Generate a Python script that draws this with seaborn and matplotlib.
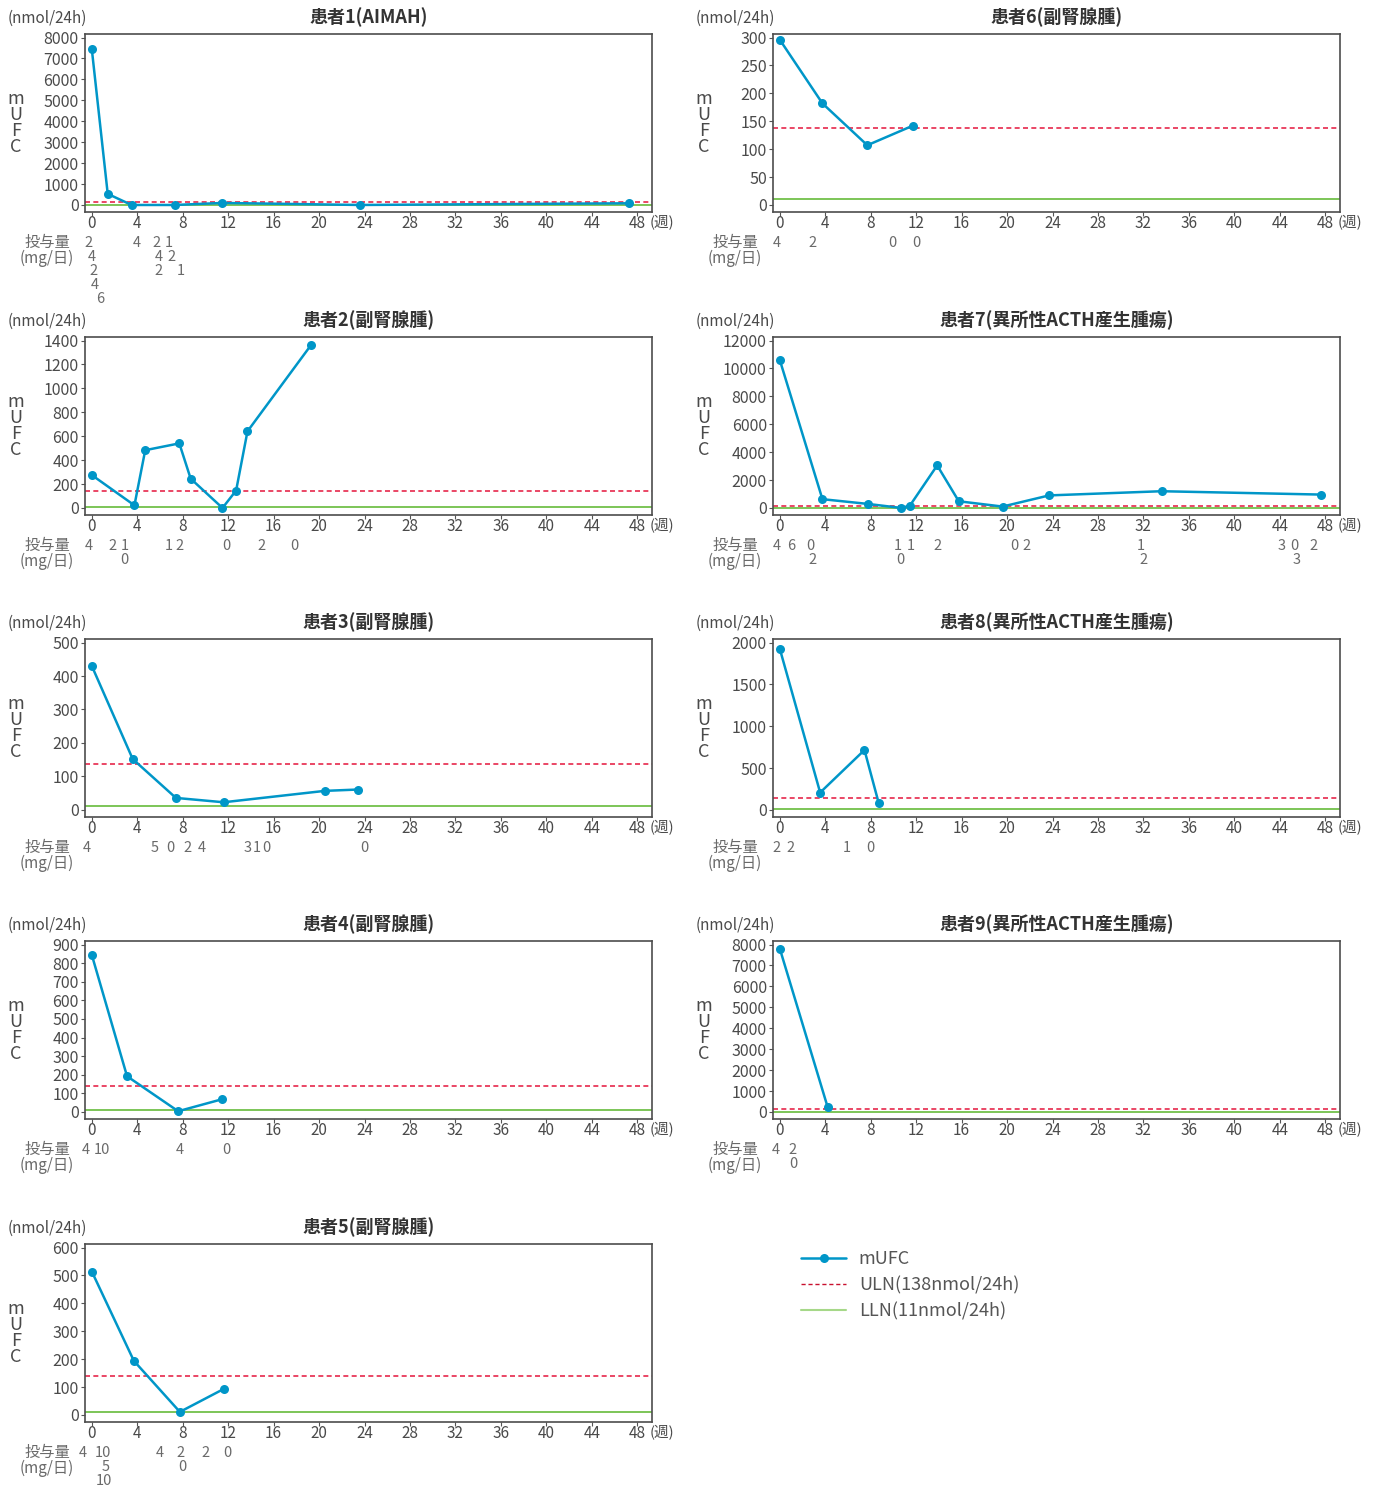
import matplotlib
matplotlib.use('Agg')
import seaborn as sns
import matplotlib.pyplot as plt
from matplotlib.lines import Line2D

# ---- data ----
ULN = 138
LLN = 11
week_ticks = list(range(0, 49, 4))

titles = ['患者1(AIMAH)', '患者2(副腎腺腫)', '患者3(副腎腺腫)', '患者4(副腎腺腫)', '患者5(副腎腺腫)',
          '患者6(副腎腺腫)', '患者7(異所性ACTH産生腫瘍)', '患者8(異所性ACTH産生腫瘍)', '患者9(異所性ACTH産生腫瘍)']

weeks_p1 = [0, 1.4, 3.5, 7.3, 11.5, 23.6, 47.3]
mufc_p1 = [7440, 530, 0, 0, 96, 0, 80]
weeks_p2 = [0, 3.75, 4.7, 7.7, 8.7, 11.5, 12.7, 13.7, 19.3]
mufc_p2 = [275, 22, 483, 540, 245, 0, 146, 641, 1363]
weeks_p3 = [0, 3.6, 7.4, 11.6, 20.5, 23.4]
mufc_p3 = [430, 152, 36, 23, 57, 61]
weeks_p4 = [0, 3.1, 7.6, 11.5]
mufc_p4 = [844, 192, 4, 69]
weeks_p5 = [0, 3.7, 7.75, 11.6]
mufc_p5 = [514, 194, 11, 93]
weeks_p6 = [0, 3.75, 7.7, 11.7]
mufc_p6 = [296, 182, 107, 142]
weeks_p7 = [0, 3.75, 7.75, 10.7, 11.45, 13.85, 15.75, 19.6, 23.7, 33.6, 47.6]
mufc_p7 = [10600, 630, 290, 0, 170, 3050, 480, 100, 900, 1200, 960]
weeks_p8 = [0, 3.55, 7.45, 8.7]
mufc_p8 = [1924, 208, 716, 84]
weeks_p9 = [0, 4.2]
mufc_p9 = [7800, 250]

yticks_p1 = list(range(0, 8001, 1000))
yticks_p2 = list(range(0, 1401, 200))
yticks_p3 = list(range(0, 501, 100))
yticks_p4 = list(range(0, 901, 100))
yticks_p5 = list(range(0, 601, 100))
yticks_p6 = list(range(0, 301, 50))
yticks_p7 = list(range(0, 12001, 2000))
yticks_p8 = list(range(0, 2001, 500))
yticks_p9 = list(range(0, 8001, 1000))

# dose changes: (week, row, label)
dose_p1 = [(-0.3, 0, '2'), (0.0, 1, '4'), (0.15, 2, '2'), (0.3, 3, '4'), (0.75, 4, '6'),
           (4.0, 0, '4'), (5.7, 0, '2'), (6.8, 0, '1'), (5.9, 1, '4'), (7.0, 1, '2'),
           (5.9, 2, '2'), (7.8, 2, '1')]
dose_p2 = [(-0.3, 0, '4'), (1.8, 0, '2'), (2.9, 0, '1'), (2.9, 1, '0'), (6.8, 0, '1'),
           (7.7, 0, '2'), (11.8, 0, '0'), (14.9, 0, '2'), (17.8, 0, '0')]
dose_p3 = [(-0.45, 0, '4'), (5.55, 0, '5'), (6.95, 0, '0'), (8.4, 0, '2'), (9.65, 0, '4'),
           (13.7, 0, '3'), (14.5, 0, '1'), (15.4, 0, '0'), (24.0, 0, '0')]
dose_p4 = [(-0.55, 0, '4'), (0.9, 0, '10'), (7.75, 0, '4'), (11.85, 0, '0')]
dose_p5 = [(-0.8, 0, '4'), (0.98, 0, '10'), (1.2, 1, '5'), (1.1, 2, '10'), (6.0, 0, '4'),
           (7.8, 0, '2'), (7.95, 1, '0'), (10.0, 0, '2'), (11.9, 0, '0')]
dose_p6 = [(-0.3, 0, '4'), (2.85, 0, '2'), (9.9, 0, '0'), (12.0, 0, '0')]
dose_p7 = [(-0.3, 0, '4'), (1.0, 0, '6'), (2.7, 0, '0'), (2.9, 1, '2'), (10.4, 0, '1'),
           (11.5, 0, '1'), (10.6, 1, '0'), (13.9, 0, '2'), (20.6, 0, '0'), (21.7, 0, '2'),
           (31.8, 0, '1'), (32.0, 1, '2'), (44.2, 0, '3'), (45.3, 0, '0'), (47.0, 0, '2'),
           (45.5, 1, '3')]
dose_p8 = [(-0.3, 0, '2'), (0.95, 0, '2'), (5.9, 0, '1'), (8.0, 0, '0')]
dose_p9 = [(-0.35, 0, '4'), (1.15, 0, '2'), (1.2, 1, '0')]

weeks_all = [weeks_p1, weeks_p2, weeks_p3, weeks_p4, weeks_p5, weeks_p6, weeks_p7, weeks_p8, weeks_p9]
mufc_all = [mufc_p1, mufc_p2, mufc_p3, mufc_p4, mufc_p5, mufc_p6, mufc_p7, mufc_p8, mufc_p9]
yticks_all = [yticks_p1, yticks_p2, yticks_p3, yticks_p4, yticks_p5, yticks_p6, yticks_p7, yticks_p8, yticks_p9]
dose_all = [dose_p1, dose_p2, dose_p3, dose_p4, dose_p5, dose_p6, dose_p7, dose_p8, dose_p9]

# ---- style ----
LINE = '#0096c8'
ULN_COLOR = '#e6284b'
LLN_COLOR = '#72c04a'
TEXT = '#4a4a4a'
GRAY = '#6a6a6a'

sns.set_theme(style='white')
plt.rcParams['font.family'] = ['Noto Sans CJK JP', 'DejaVu Sans']

W, H = 1376, 1488
fig = plt.figure(figsize=(W / 100, H / 100), dpi=100)

col_left = [85, 773]
row_top = [34, 337, 639, 941, 1244]
ax_w, ax_h = 567, 178


def px(x, y):
    return x / W, 1 - y / H


for i in range(9):
    col = 0 if i < 5 else 1
    row = i if i < 5 else i - 5
    left, top = col_left[col], row_top[row]
    bottom = top + ax_h
    ax = fig.add_axes([left / W, 1 - bottom / H, ax_w / W, ax_h / H])

    ax.axhline(ULN, color=ULN_COLOR, ls=(0, (3, 2)), lw=1.2, zorder=1)
    ax.axhline(LLN, color=LLN_COLOR, lw=1.3, zorder=1)
    sns.lineplot(x=weeks_all[i], y=mufc_all[i], ax=ax, color=LINE, marker='o',
                 markersize=6.5, markeredgewidth=0, linewidth=1.8, legend=False, zorder=3)

    yt = yticks_all[i]
    rng = yt[-1] - yt[0]
    ax.set_xlim(-0.6, 49.3)
    ax.set_ylim(-0.042 * rng, yt[-1] + 0.021 * rng)
    ax.set_xticks(week_ticks)
    ax.set_yticks(yt)
    ax.set_xlabel('')
    ax.set_ylabel('')
    ax.tick_params(axis='both', which='both', direction='out', length=3, width=0.8,
                   colors='#555555', labelcolor=TEXT, bottom=True, left=True)
    ax.tick_params(axis='x', pad=-1, labelsize=11)
    ax.tick_params(axis='y', pad=1.5, labelsize=11.5)
    for s in ax.spines.values():
        s.set_color('#4d4d4d')
        s.set_linewidth(1.2)

    # "(週)" after the last tick label
    ax.annotate('(週)', xy=(48, 0), xycoords=('data', 'axes fraction'),
                xytext=(12, -11), textcoords='offset pixels', ha='left', va='center',
                fontsize=10.5, color=TEXT)

    cx = left + ax_w / 2
    fig.text(*px(cx, top - 17), titles[i], ha='center', va='center',
             fontsize=13, fontweight='bold', color='#333333')
    fig.text(*px(left - 38, top - 16), '(nmol/24h)', ha='center', va='center',
             fontsize=11, color=TEXT)
    fig.text(*px(left - 69, top + ax_h / 2), 'm\nU\nF\nC', ha='center', va='center',
             fontsize=13, linespacing=0.85, color=TEXT)
    fig.text(*px(left - 38, bottom + 30), '投与量', ha='center', va='center',
             fontsize=11, color=GRAY)
    fig.text(*px(left - 38, bottom + 46), '(mg/日)', ha='center', va='center',
             fontsize=11, color=GRAY)

    for wk, r, lab in dose_all[i]:
        ax.annotate(lab, xy=(wk, 0), xycoords=('data', 'axes fraction'),
                    xytext=(0, -(31 + 14 * r)), textcoords='offset pixels',
                    ha='center', va='center', fontsize=10.5, color=GRAY,
                    annotation_clip=False)

handles = [
    Line2D([], [], color=LINE, marker='o', lw=1.8, ms=6.5, markeredgewidth=0),
    Line2D([], [], color='#c8102e', ls=(0, (3, 2)), lw=1.0),
    Line2D([], [], color='#a6d889', lw=1.5),
]
labels = ['mUFC', 'ULN(138nmol/24h)', 'LLN(11nmol/24h)']
fig.legend(handles=handles, labels=labels, loc='upper left',
           bbox_to_anchor=px(801, 1250), frameon=False, fontsize=13,
           handlelength=2.5, handletextpad=0.7, labelspacing=0.45,
           borderpad=0, borderaxespad=0, labelcolor='#555555')

fig.savefig('out.png', dpi=100)
